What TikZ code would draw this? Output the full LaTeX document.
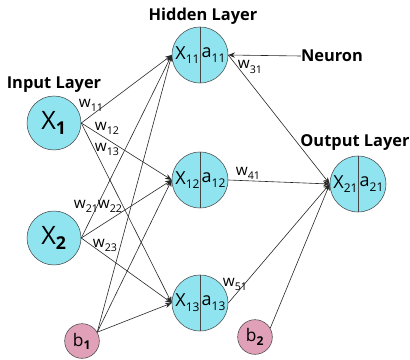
\documentclass[tikz,border=0pt]{standalone}
\usepackage{fontspec}
\setmainfont{Open Sans}
\usepackage{xcolor}
\usetikzlibrary{arrows.meta, positioning, calc}

\definecolor{cellblue}{RGB}{143,228,240}
\definecolor{biaspink}{RGB}{224,160,184}
\definecolor{rimgray}{RGB}{70,70,70}

% lowered subscript, size in pt as option
\newcommand{\lowsub}[2][8]{\raisebox{-0.5ex}{\fontsize{#1}{#1}\selectfont #2}}

\tikzset{
  inneuron/.style={circle, draw=rimgray, fill=cellblue, minimum size=40.5pt, inner sep=0pt, font=\fontsize{19}{21}\selectfont},
  hidneuron/.style={circle, draw=rimgray, fill=cellblue, minimum size=42pt, inner sep=0pt},
  biasnode/.style={circle, draw=rimgray, fill=biaspink, minimum size=26pt, inner sep=0pt, font=\fontsize{13}{15}\selectfont},
  halftext/.style={inner sep=0pt, font=\fontsize{13.5}{16}\selectfont},
  layerlabel/.style={font=\bfseries\fontsize{12.3}{14}\selectfont, inner sep=0pt},
  wlabel/.style={font=\fontsize{11.5}{13}\selectfont, inner sep=0pt},
  link/.style={->, line width=0.45pt, draw=black!85}
}

\begin{document}
\begin{tikzpicture}[x=0.75pt, y=-0.75pt, >={Stealth[length=5pt, width=4pt]}]
    \useasboundingbox (0,0) rectangle (410,360);

    % ---------------- layer captions ----------------
    \node[layerlabel] (inlbl)  at (54,85)   {Input Layer};
    \node[layerlabel] (hidlbl) at (203,16)  {Hidden Layer};
    \node[layerlabel] (outlbl) at (355,143) {Output Layer};
    \node[layerlabel] (neulbl) at (332,56)  {Neuron};

    % ---------------- neurons ----------------
    \node[inneuron] (x1) at (54,123) {X\textsubscript{\bfseries 1}};
    \node[inneuron] (x2) at (54,238) {X\textsubscript{\bfseries 2}};
    \node[biasnode] (b1) at (82,341) {b\textsubscript{\bfseries 1}};
    \node[biasnode] (b2) at (255,337) {b\textsubscript{\bfseries 2}};

    \node[hidneuron] (h1) at (200,55)  {};
    \node[hidneuron] (h2) at (200,180) {};
    \node[hidneuron] (h3) at (200,303) {};
    \node[hidneuron] (o1) at (358,184) {};

    % split circles: sum | activation
    \foreach \n/\i in {h1/11, h2/12, h3/13, o1/21} {
        \draw[rimgray, line width=0.6pt] (\n.north) -- (\n.south);
        \node[halftext] (\n-x) at ($(\n.center)+(-12.5,0)$) {X\lowsub[9]{\i}};
        \node[halftext] (\n-a) at ($(\n.center)+(13.5,0)$)  {a\lowsub[9]{\i}};
    }

    % ---------------- connectors ----------------
    \foreach \s in {x1, x2}
        \foreach \t in {h1, h2, h3}
            \draw[link] (\s.east) -- (\t.west);
    \foreach \t in {h1, h2, h3}
        \draw[link] (b1.30) -- (\t.west);
    \foreach \s in {h1, h2, h3}
        \draw[link] (\s.east) -- (o1.west);
    \draw[link] (b2.30) -- (o1.west);
    \draw[link] (neulbl.west) -- (h1.east);

    % ---------------- weights ----------------
    \node[wlabel] (w11) at (91,105)  {w\lowsub{11}};
    \node[wlabel] (w12) at (107,128) {w\lowsub{12}};
    \node[wlabel] (w13) at (107,149) {w\lowsub{13}};
    \node[wlabel] (w21) at (86,206)  {w\lowsub{21}};
    \node[wlabel] (w22) at (110,206) {w\lowsub{22}};
    \node[wlabel] (w23) at (105,245) {w\lowsub{23}};
    \node[wlabel] (w31) at (250,67)  {w\lowsub{31}};
    \node[wlabel] (w41) at (248,173) {w\lowsub{41}};
    \node[wlabel] (w51) at (235,284) {w\lowsub{51}};
\end{tikzpicture}
\end{document}
